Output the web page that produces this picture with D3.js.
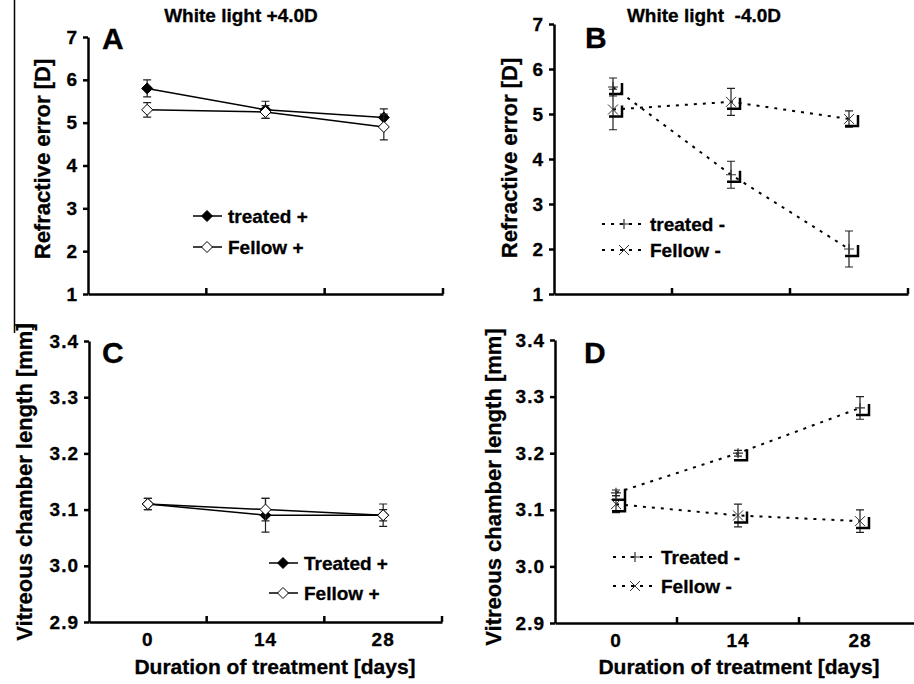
<!DOCTYPE html>
<meta charset="utf-8">
<title>refraction and vitreous chamber</title>
<style>

body {
  margin: 0;
  background: #fff;
}

text {
  font-family: "Liberation Sans", Arial, sans-serif;
  font-weight: bold;
  fill: #000;
  stroke: #000;
  stroke-width: 0.3px;
}

.axis path, .axis line {
  stroke: #000;
  stroke-width: 2.5px;
}

.axis text {
  font-size: 19px;
  letter-spacing: 1px;
}

.series {
  fill: none;
  stroke: #000;
  stroke-width: 1.5px;
}

.dashed {
  stroke-dasharray: 3, 6;
  stroke-width: 2px;
}

.err {
  stroke: #222;
  stroke-width: 1.2px;
}

.bracket {
  fill: none;
  stroke: #000;
  stroke-width: 2.5px;
}

</style>
<body>
<script src="https://cdn.jsdelivr.net/npm/d3@7"></script>
<script>

var width = 914,
    height = 684;

// data
var days = [0, 14, 28];
var refractionTicks = [1, 2, 3, 4, 5, 6, 7];
var vitreousTicks = [2.9, 3.0, 3.1, 3.2, 3.3, 3.4];

var treatedPlusRE = [5.8, 5.3, 5.12],
    treatedPlusREerr = [0.2, 0.2, 0.2],
    fellowPlusRE = [5.3, 5.25, 4.9],
    fellowPlusREerr = [0.17, 0.15, 0.3];

var treatedMinusRE = [5.6, 3.65, 2.0],
    treatedMinusREerr = [0.2, 0.3, 0.4],
    fellowMinusRE = [5.1, 5.27, 4.89],
    fellowMinusREerr = [0.45, 0.3, 0.18];

var treatedPlusVCL = [3.11, 3.09, 3.09],
    treatedPlusVCLerr = [0.01, 0.03, 0.01],
    fellowPlusVCL = [3.11, 3.10, 3.09],
    fellowPlusVCLerr = [0.01, 0.02, 0.02];

var treatedMinusVCL = [3.13, 3.20, 3.28],
    treatedMinusVCLerr = [0.005, 0.005, 0.02],
    fellowMinusVCL = [3.11, 3.09, 3.08],
    fellowMinusVCLerr = [0.015, 0.02, 0.02];

var panels = [
  { letter: "A", box: [88, 443, 37, 294], domain: [1, 7], ticks: refractionTicks, fmt: d3.format("d"),
    title: "White light +4.0D", titleX: 241, yTitle: "Refractive error [D]", yTitleX: 50, yTitleY: 159,
    letterX: 102, letterY: 49, dashed: false, xLabels: false,
    legend: { x: 193, y: 216, dy: 31 },
    series: [
      { name: "treated +", values: treatedPlusRE, errs: treatedPlusREerr, marker: "filled" },
      { name: "Fellow +", values: fellowPlusRE, errs: fellowPlusREerr, marker: "open" }
    ] },
  { letter: "B", box: [554, 908, 24, 294], domain: [1, 7], ticks: refractionTicks, fmt: d3.format("d"),
    title: "White light  -4.0D", titleX: 704, yTitle: "Refractive error [D]", yTitleX: 517, yTitleY: 158,
    letterX: 585, letterY: 48, dashed: true, xLabels: false,
    legend: { x: 602, y: 224, dy: 26 },
    series: [
      { name: "treated -", values: treatedMinusRE, errs: treatedMinusREerr, marker: "plus" },
      { name: "Fellow -", values: fellowMinusRE, errs: fellowMinusREerr, marker: "cross" }
    ] },
  { letter: "C", box: [89, 442, 341, 622], domain: [2.9, 3.4], ticks: vitreousTicks, fmt: d3.format(".1f"),
    yTitle: "Vitreous chamber length [mm]", yTitleX: 32, yTitleY: 482,
    letterX: 102, letterY: 363, dashed: false, xLabels: true, xTitleX: 275,
    legend: { x: 269, y: 563, dy: 30 },
    series: [
      { name: "Treated +", values: treatedPlusVCL, errs: treatedPlusVCLerr, marker: "filled" },
      { name: "Fellow +", values: fellowPlusVCL, errs: fellowPlusVCLerr, marker: "open" }
    ] },
  { letter: "D", box: [555, 921, 340, 623], domain: [2.9, 3.4], ticks: vitreousTicks, fmt: d3.format(".1f"),
    yTitle: "Vitreous chamber length [mm]", yTitleX: 501, yTitleY: 487,
    letterX: 584, letterY: 363, dashed: true, xLabels: true, xTitleX: 739,
    legend: { x: 613, y: 557, dy: 29 },
    series: [
      { name: "Treated -", values: treatedMinusVCL, errs: treatedMinusVCLerr, marker: "plus" },
      { name: "Fellow -", values: fellowMinusVCL, errs: fellowMinusVCLerr, marker: "cross" }
    ] }
];

var svg = d3.select("body").append("svg")
    .attr("width", width)
    .attr("height", height);

// stray frame line on the left of the scan
svg.append("path")
    .attr("d", "M14.5,0V333M14.5,325H33V330")
    .attr("fill", "none")
    .attr("stroke", "#000")
    .attr("stroke-width", 1.5);

function drawMarker(g, type, x, y) {
  if (type == "filled" || type == "open") {
    g.append("path")
        .attr("d", "M" + x + "," + (y - 5.5) + "L" + (x + 5.5) + "," + y + "L" + x + "," + (y + 5.5) + "L" + (x - 5.5) + "," + y + "Z")
        .attr("fill", type == "filled" ? "#000" : "#fff")
        .attr("stroke", "#000")
        .attr("stroke-width", 1);
  } else if (type == "plus") {
    g.append("path")
        .attr("d", "M" + (x - 5) + "," + y + "H" + (x + 5) + "M" + x + "," + (y - 5) + "V" + (y + 5))
        .attr("stroke", "#333")
        .attr("stroke-width", 1.2);
  } else {
    g.append("path")
        .attr("d", "M" + (x - 5) + "," + (y - 5) + "L" + (x + 5) + "," + (y + 5) + "M" + (x + 5) + "," + (y - 5) + "L" + (x - 5) + "," + (y + 5))
        .attr("stroke", "#333")
        .attr("stroke-width", 1);
  }
}

panels.forEach(function(p) {
  var x = d3.scaleBand()
      .domain(days)
      .range([p.box[0], p.box[1]]);

  var y = d3.scaleLinear()
      .domain(p.domain)
      .range([p.box[3], p.box[2]]);

  var cx = function(d) { return x(d) + x.bandwidth() / 2; };

  var g = svg.append("g");

  // y axis
  g.append("g")
      .attr("class", "axis")
      .attr("transform", "translate(" + p.box[0] + ",0)")
      .call(d3.axisLeft(y).tickValues(p.ticks).tickFormat(p.fmt).tickSize(5).tickSizeOuter(0).tickPadding(5));

  // x axis: labels under band centres, ticks on band edges
  var xAxis = g.append("g")
      .attr("class", "axis")
      .attr("transform", "translate(0," + p.box[3] + ")")
      .call(d3.axisBottom(x).tickSize(0).tickSizeOuter(0).tickPadding(11));
  if (!p.xLabels) xAxis.selectAll(".tick text").remove();

  g.selectAll(".edge")
      .data(days.slice(1).map(function(d) { return x(d); }).concat([x.range()[1]]))
    .enter().append("line")
      .attr("x1", function(d) { return d; })
      .attr("x2", function(d) { return d; })
      .attr("y1", p.box[3])
      .attr("y2", p.box[3] - 6)
      .attr("stroke", "#000")
      .attr("stroke-width", 2.5);

  // titles
  if (p.title) {
    g.append("text")
        .attr("x", p.titleX)
        .attr("y", 22)
        .attr("text-anchor", "middle")
        .style("font-size", "19px")
        .style("white-space", "pre")
        .text(p.title);
  }

  g.append("text")
      .attr("transform", "translate(" + p.yTitleX + "," + p.yTitleY + ")rotate(-90)")
      .attr("text-anchor", "middle")
      .style("font-size", "22px")
      .text(p.yTitle);

  if (p.xLabels) {
    g.append("text")
        .attr("x", p.xTitleX)
        .attr("y", 674)
        .attr("text-anchor", "middle")
        .style("font-size", "21px")
        .text("Duration of treatment [days]");
  }

  g.append("text")
      .attr("x", p.letterX)
      .attr("y", p.letterY)
      .style("font-size", "30px")
      .text(p.letter);

  // series
  var line = d3.line()
      .x(function(d, i) { return cx(days[i]); })
      .y(function(d) { return y(d); });

  p.series.forEach(function(s) {
    g.append("path")
        .datum(s.values)
        .attr("class", p.dashed ? "series dashed" : "series")
        .attr("d", line);

    s.values.forEach(function(v, i) {
      var px = cx(days[i]);
      g.append("path")
          .attr("class", "err")
          .attr("d", "M" + px + "," + y(v - s.errs[i]) + "V" + y(v + s.errs[i]) +
              "M" + (px - 4) + "," + y(v - s.errs[i]) + "H" + (px + 4) +
              "M" + (px - 4) + "," + y(v + s.errs[i]) + "H" + (px + 4))
          .attr("fill", "none");
      if (p.dashed) {
        g.append("path")
            .attr("class", "bracket")
            .attr("d", "M" + (px - 4) + "," + (y(v) + 7) + "H" + (px + 9) + "V" + (y(v) - 4));
      }
      drawMarker(g, s.marker, px, y(v));
    });
  });

  // legend
  var lg = g.append("g");
  p.series.forEach(function(s, i) {
    var ly = p.legend.y + i * p.legend.dy;
    if (p.dashed) {
      lg.append("path")
          .attr("class", "series dashed")
          .attr("d", "M" + p.legend.x + "," + ly + "H" + (p.legend.x + 40));
      drawMarker(lg, s.marker, p.legend.x + 22, ly);
      lg.append("text")
          .attr("x", p.legend.x + 48)
          .attr("y", ly + 7)
          .style("font-size", "19px")
          .text(s.name);
    } else {
      lg.append("path")
          .attr("class", "series")
          .attr("d", "M" + p.legend.x + "," + ly + "H" + (p.legend.x + 29));
      drawMarker(lg, s.marker, p.legend.x + 14, ly);
      lg.append("text")
          .attr("x", p.legend.x + 35)
          .attr("y", ly + 7)
          .style("font-size", "19px")
          .text(s.name);
    }
  });
});

</script>
</body>
